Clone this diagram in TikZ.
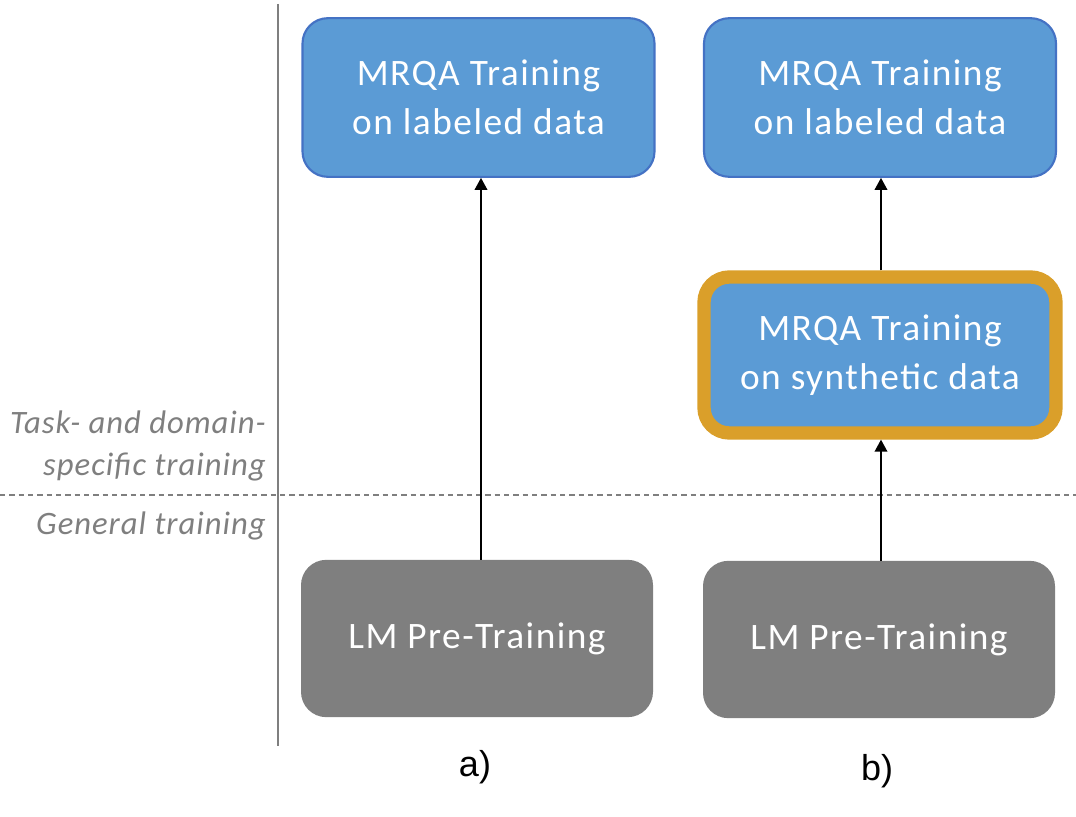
\documentclass[tikz,border=0pt]{standalone}
\usepackage{fontspec}
\setmainfont{Carlito}
\newfontfamily\boxfont[LetterSpace=4]{Carlito}
\newfontfamily\sidefont[LetterSpace=3]{Carlito}
\newfontfamily\arialfont{Liberation Sans}
\usetikzlibrary{arrows.meta}
\definecolor{boxblue}{HTML}{5B9BD5}
\definecolor{boxborder}{HTML}{4472C4}
\definecolor{boxgray}{HTML}{7F7F7F}
\definecolor{synorange}{HTML}{DA9F2A}
\definecolor{labelgray}{HTML}{7F7F7F}
\begin{document}
\begin{tikzpicture}[x=0.75pt,y=-0.75pt,
  bluebox/.style={draw=boxborder, line width=1.6pt, fill=boxblue, rounded corners=19pt,
    minimum width=264pt, minimum height=119pt, inner sep=0pt, align=center,
    text=white, font=\boxfont\fontsize{28}{37}\selectfont},
  synbox/.style={draw=synorange, line width=10pt, fill=boxblue, rounded corners=19pt,
    minimum width=264pt, minimum height=117pt, inner sep=0pt, align=center,
    text=white, font=\boxfont\fontsize{28}{37}\selectfont},
  graybox/.style={fill=boxgray, rounded corners=19pt,
    minimum width=264pt, minimum height=118pt, inner sep=0pt, align=center,
    text=white, font=\boxfont\fontsize{28}{37}\selectfont},
  sidelabel/.style={text=labelgray, font=\sidefont\fontsize{24.5}{32}\selectfont\itshape, align=right, anchor=east, inner sep=0pt},
  arr/.style={draw=black, line width=1.1pt, -{Triangle[length=9pt,width=9.5pt]}},
  caplabel/.style={font=\arialfont\fontsize{27}{30}\selectfont, inner sep=0pt}
]
\useasboundingbox (0,0) rectangle (1076,817);

% separators
\draw[draw=boxgray, line width=1.1pt] (278,4) -- (278,746);
\draw[draw=boxgray, line width=0.8pt, dash pattern=on 4pt off 3pt] (0,495) -- (1076,495);

% side labels
\node[sidelabel] (task) at (266,446) {Task- and domain-\\specific training};
\node[sidelabel] (gen) at (266,526) {General training};

% column a
\node[bluebox] (a1) at (478.5,97.5) {MRQA Training\\on labeled data};
\node[graybox] (a0) at (477,638.5) {LM Pre-Training};
\draw[arr] (a0.north -| 481,0) -- (a1.south -| 481,0);

% column b
\node[bluebox] (b2) at (880,97.5) {MRQA Training\\on labeled data};
\node[synbox] (b1) at (880,355) {MRQA Training\\on synthetic data};
\node[graybox] (b0) at (879,639.5) {LM Pre-Training};
\draw[arr] (b1.north -| 881,0) -- (b2.south -| 881,0);
\draw[arr] (b0.north -| 881,0) -- (b1.south -| 881,0);

% captions
\node[caplabel] (capa) at (475,767) {a)};
\node[caplabel] (capb) at (877,771) {b)};
\end{tikzpicture}
\end{document}
